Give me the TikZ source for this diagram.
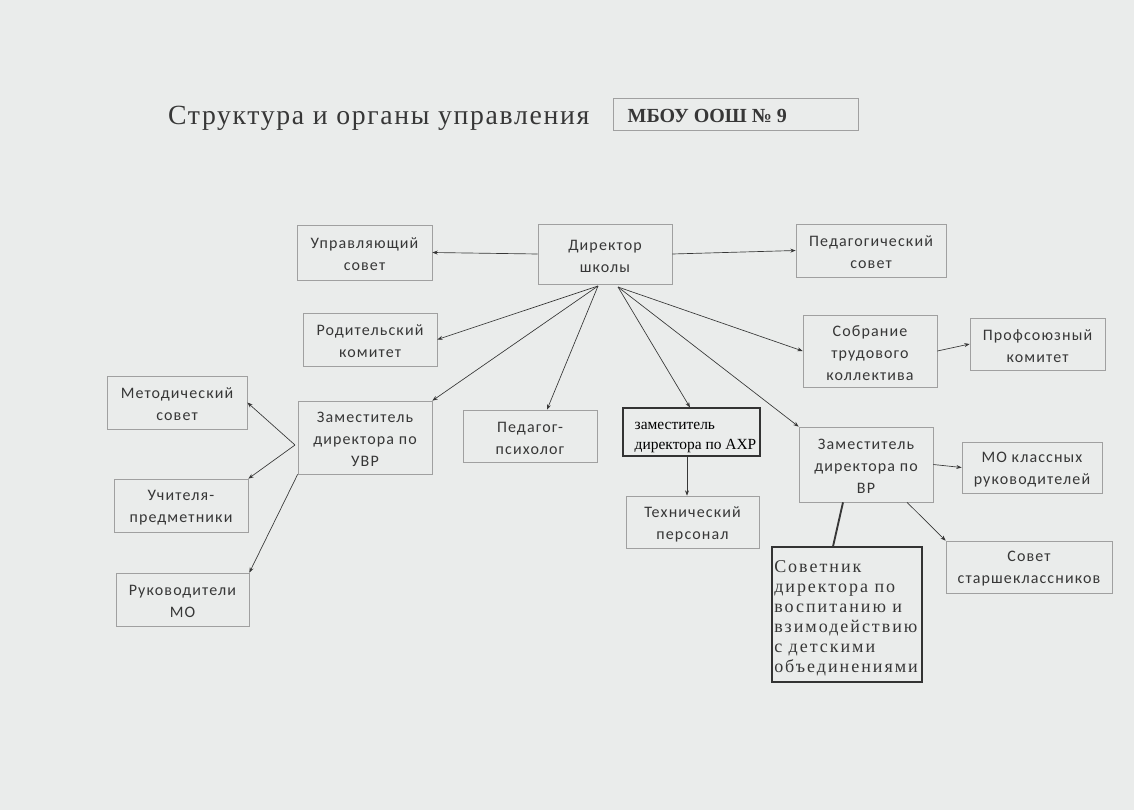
\documentclass[tikz,border=0pt]{standalone}
\usepackage{fontspec}
\setmainfont{Carlito}
\newfontfamily\boxfont[LetterSpace=7]{Carlito}
\newfontfamily\seriffont{Liberation Serif}
\newfontfamily\titlefont[LetterSpace=6]{Liberation Serif}
\newfontfamily\sovfont[LetterSpace=11]{Liberation Serif}
\usetikzlibrary{fit,arrows.meta}
\definecolor{bg}{RGB}{234,236,235}
\definecolor{ink}{RGB}{55,55,55}
\definecolor{edge}{RGB}{160,160,160}
\newcommand\mkbox[3]{\node[bx,fit={#2}] (#1) {};\node[tx] (#1-t) at ([yshift=-1.5]#1.center) {#3};}
\begin{document}
\begin{tikzpicture}[x=0.75pt,y=-0.75pt,
  bx/.style={draw=edge,line width=0.5pt,inner sep=0pt},
  tx/.style={inner sep=0pt,align=center,
    font=\boxfont\fontsize{12}{16.5}\selectfont,text=ink},
  dbox/.style={draw=black!80,line width=0.8pt,inner sep=0pt},
  arr/.style={draw=ink,line width=0.5pt,-{Stealth[length=4pt,width=3pt]}}]
\fill[bg] (0,0) rectangle (1134,810);
\useasboundingbox (0,0) rectangle (1134,810);

% title
\node[anchor=east,text=ink,font=\titlefont\fontsize{20.8}{24}\selectfont] (title) at (594,118) {Структура и органы управления};
\node[draw=edge,line width=0.6pt,inner sep=0pt,fit={(613,98) (858,130)}] (school) {};
\node[anchor=west,font=\seriffont\bfseries\fontsize{15}{17}\selectfont,text=ink] (schooltxt) at (623,116) {МБОУ ООШ № 9};

% boxes
\mkbox{dir}{(538,224) (672,284)}{Директор\\школы}
\mkbox{us}{(297,225) (432,280)}{Управляющий\\совет}
\mkbox{ps}{(796,224) (946,277)}{Педагогический\\совет}
\mkbox{rk}{(303,313) (437,366)}{Родительский\\комитет}
\mkbox{stk}{(803,315) (937,387)}{Собрание\\трудового\\коллектива}
\mkbox{pk}{(970,318) (1105,370)}{Профсоюзный\\комитет}
\mkbox{ms}{(107,376) (247,429)}{Методический\\совет}
\mkbox{uvr}{(298,401) (432,474)}{Заместитель\\директора по\\УВР}
\mkbox{up}{(114,479) (248,532)}{Учителя-\\предметники}
\mkbox{rmo}{(116,573) (249,626)}{Руководители\\МО}
\mkbox{pp}{(463,410) (597,462)}{Педагог-\\психолог}
\mkbox{tp}{(626,496) (759,548)}{Технический\\персонал}
\mkbox{vr}{(799,427) (933,502)}{Заместитель\\директора по\\ВР}
\mkbox{mok}{(962,442) (1102,493)}{МО классных\\руководителей}
\mkbox{ss}{(946,541) (1112,593)}{Совет\\старшеклассников}

\node[dbox,fit={(623,408) (760,456)}] (ahr) {};
\node[anchor=west,align=left,font=\seriffont\fontsize{11.6}{15}\selectfont,text=black] (ahrtxt) at (630,437) {заместитель\\директора по АХР};
\node[dbox,fit={(772,547) (922,682)}] (sov) {};
\node[anchor=north west,inner sep=0pt,align=left,font=\sovfont\fontsize{13.5}{15}\selectfont,text=ink] (sovtxt) at (774,560) {Советник\\директора по\\воспитанию и\\взимодействию\\с детскими\\объединениями};

% connectors
\coordinate (dl) at (598,286);
\coordinate (dr) at (618,287);
\draw[arr] (dir.west) -- (us.east);
\draw[arr] (dir.east) -- (ps.west);
\draw[arr] (dl) -- (rk.east);
\draw[arr] (dl) -- (uvr.north east);
\draw[arr] (dl) -- (pp.north -| 547,0);
\draw[arr] (dr) -- (ahr.north -| 690,0);
\draw[arr] (dr) -- (vr.north west);
\draw[arr] (dr) -- (stk.west);
\draw[arr] (stk.east) -- (pk.west);
\coordinate (uvrl) at (295,445);
\draw[arr] (uvrl) -- (ms.east);
\draw[arr] (uvrl) -- (up.north east);
\draw[arr] (uvr.south west) -- (rmo.north east);
\draw[arr] (ahr.south -| 687,0) -- (tp.north -| 687,0);
\draw[arr] (vr.east) -- (mok.west);
\draw[arr] (vr.south -| 907,0) -- (ss.north west);
\draw[line width=1.4pt,ink] (vr.south -| 843,0) -- (sov.north -| 833,0);
\end{tikzpicture}
\end{document}
